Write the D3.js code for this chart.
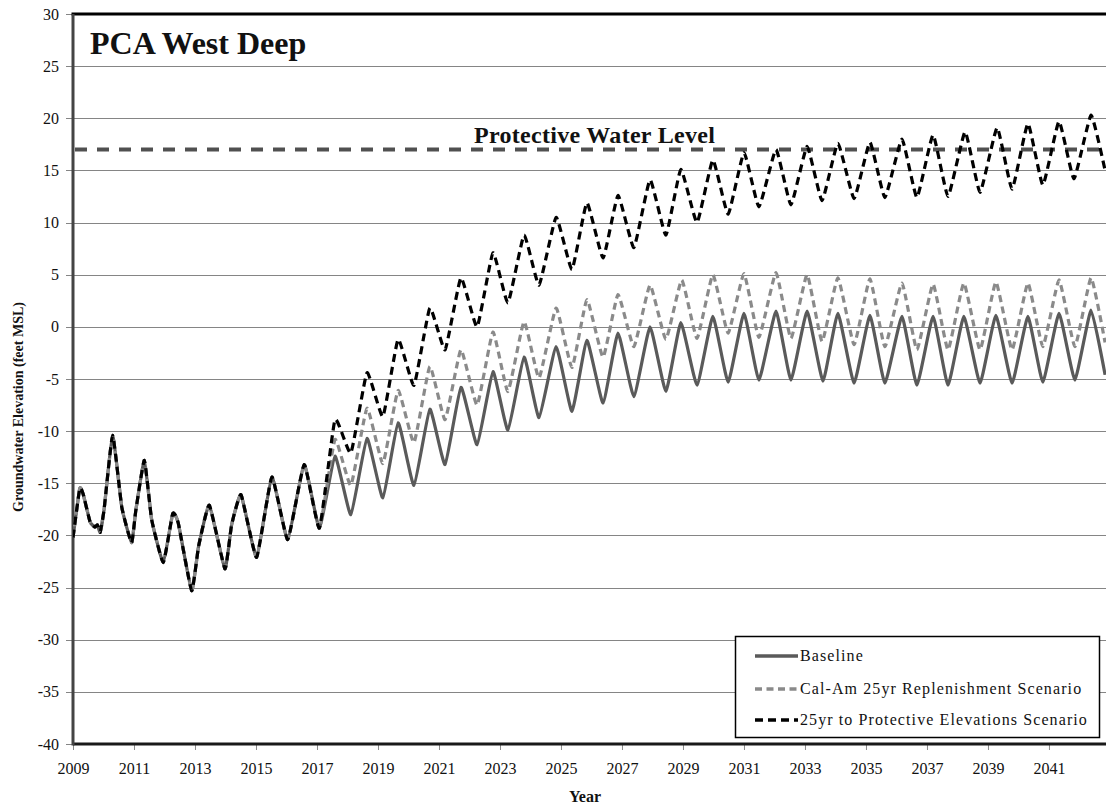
<!DOCTYPE html>
<html>
<head>
<meta charset="utf-8">
<script src="https://cdn.jsdelivr.net/npm/d3@7"></script>
<style>
  body { margin: 0; background: #fff; }
  svg { display: block; font-family: "Liberation Serif", "Times New Roman", serif; }
</style>
</head>
<body>
<svg id="chart" width="1106" height="809"></svg>
<script>
// ---- Data -------------------------------------------------------------
const yearTicks = [2009, 2011, 2013, 2015, 2017, 2019, 2021, 2023, 2025,
                   2027, 2029, 2031, 2033, 2035, 2037, 2039, 2041];
const elevationTicks = [-40, -35, -30, -25, -20, -15, -10, -5, 0, 5, 10, 15, 20, 25, 30];
const protectiveLevel = 17;
const chartTitle = "PCA West Deep";
const protectiveLabel = "Protective Water Level";
const seriesNames = ["Baseline",
                     "Cal-Am 25yr Replenishment Scenario",
                     "25yr to Protective Elevations Scenario"];

// Observed record shared by every scenario, [year, feet MSL]
const sharedHistory = [
  [2009.00, -20.2], [2009.22, -15.5], [2009.33, -16.0], [2009.56, -18.7],
  [2009.72, -19.2], [2009.80, -19.0], [2009.89, -19.7], [2010.02, -17.5],
  [2010.30, -10.4], [2010.60, -17.3], [2010.92, -20.7], [2011.06, -17.6],
  [2011.34, -12.8], [2011.58, -18.5], [2011.96, -22.6], [2012.27, -17.9],
  [2012.45, -18.8], [2012.89, -25.3], [2013.12, -21.0], [2013.47, -17.1],
  [2013.98, -23.2], [2014.20, -19.0], [2014.51, -16.1], [2015.02, -22.1],
  [2015.52, -14.4], [2016.04, -20.4], [2016.58, -13.2], [2017.08, -19.3]
];

// Projections after 2017
const baseline = [
  [2017.59, -12.4], [2018.11, -18.0], [2018.64, -10.7], [2019.16, -16.4],
  [2019.66, -9.2], [2020.18, -15.2], [2020.70, -7.9], [2021.20, -13.2],
  [2021.72, -5.8], [2022.25, -11.3], [2022.77, -4.3], [2023.26, -9.9],
  [2023.79, -2.9], [2024.28, -8.7], [2024.84, -1.9], [2025.36, -8.1],
  [2025.85, -1.3], [2026.38, -7.3], [2026.87, -0.6], [2027.39, -6.7],
  [2027.92, 0.0], [2028.44, -6.2], [2028.93, 0.4], [2029.46, -5.6],
  [2029.98, 1.0], [2030.48, -5.3], [2031.00, 1.3], [2031.49, -5.1],
  [2032.05, 1.5], [2032.54, -5.1], [2033.07, 1.5], [2033.59, -5.2],
  [2034.08, 1.3], [2034.61, -5.4], [2035.13, 1.1], [2035.62, -5.4],
  [2036.18, 1.0], [2036.67, -5.6], [2037.20, 1.0], [2037.69, -5.6],
  [2038.21, 1.0], [2038.74, -5.4], [2039.26, 1.1], [2039.79, -5.4],
  [2040.31, 1.0], [2040.80, -5.3], [2041.33, 1.3], [2041.85, -5.1],
  [2042.38, 1.6], [2042.84, -4.6]
];

const calAmReplenishment = [
  [2017.59, -10.8], [2018.11, -15.2], [2018.64, -7.8], [2019.16, -13.1],
  [2019.66, -6.1], [2020.18, -11.1], [2020.70, -3.8], [2021.20, -8.9],
  [2021.72, -2.2], [2022.25, -7.5], [2022.77, -0.5], [2023.26, -6.2],
  [2023.79, 0.5], [2024.28, -4.9], [2024.84, 1.8], [2025.36, -3.9],
  [2025.85, 2.6], [2026.38, -2.9], [2026.87, 3.1], [2027.39, -1.9],
  [2027.92, 4.0], [2028.44, -1.2], [2028.96, 4.5], [2029.46, -1.1],
  [2029.98, 5.0], [2030.48, -0.6], [2031.00, 5.1], [2031.49, -1.0],
  [2032.05, 5.2], [2032.54, -1.1], [2033.07, 5.0], [2033.56, -1.4],
  [2034.08, 4.7], [2034.61, -1.7], [2035.13, 4.6], [2035.62, -1.9],
  [2036.18, 4.2], [2036.67, -2.2], [2037.20, 4.1], [2037.69, -2.2],
  [2038.21, 4.2], [2038.74, -2.2], [2039.26, 4.3], [2039.79, -2.2],
  [2040.31, 4.2], [2040.80, -1.9], [2041.33, 4.5], [2041.85, -1.9],
  [2042.38, 4.7], [2042.84, -1.5]
];

const protectiveElevations = [
  [2017.59, -8.9], [2018.11, -12.1], [2018.64, -4.4], [2019.16, -8.6],
  [2019.66, -1.2], [2020.18, -5.6], [2020.70, 1.8], [2021.20, -2.2],
  [2021.72, 4.7], [2022.25, 0.0], [2022.77, 7.1], [2023.26, 2.3],
  [2023.79, 8.8], [2024.28, 4.0], [2024.84, 10.5], [2025.36, 5.5],
  [2025.85, 11.9], [2026.38, 6.6], [2026.87, 12.6], [2027.39, 7.6],
  [2027.92, 14.1], [2028.44, 8.8], [2028.93, 15.1], [2029.46, 10.0],
  [2029.98, 16.0], [2030.48, 10.8], [2031.00, 16.7], [2031.49, 11.5],
  [2032.05, 17.0], [2032.54, 11.7], [2033.07, 17.3], [2033.56, 12.1],
  [2034.08, 17.6], [2034.61, 12.3], [2035.13, 17.7], [2035.62, 12.4],
  [2036.18, 18.0], [2036.67, 12.4], [2037.20, 18.4], [2037.69, 12.5],
  [2038.25, 18.7], [2038.74, 12.9], [2039.30, 19.1], [2039.79, 13.2],
  [2040.31, 19.5], [2040.80, 13.6], [2041.33, 19.7], [2041.82, 14.2],
  [2042.38, 20.3], [2042.84, 15.0]
];

// ---- Layout -----------------------------------------------------------
const plot = { left: 73, right: 1106, top: 14, bottom: 744 };
const yearEnd = 2042.87;

const svg = d3.select("#chart");
const x = d3.scaleLinear().domain([2009, yearEnd]).range([plot.left, plot.right]);
const y = d3.scaleLinear().domain([-40, 30]).range([plot.bottom, plot.top]);

svg.append("defs").append("clipPath").attr("id", "plotClip")
  .append("rect")
  .attr("x", plot.left).attr("y", plot.top - 2)
  .attr("width", plot.right - plot.left).attr("height", plot.bottom - plot.top + 2);

// Horizontal gridlines with short outside ticks
svg.append("g").selectAll("line").data(elevationTicks).join("line")
  .attr("x1", plot.left - 7).attr("x2", plot.right)
  .attr("y1", d => Math.round(y(d)) + 0.5).attr("y2", d => Math.round(y(d)) + 0.5)
  .attr("stroke", "#858585").attr("stroke-width", 1);

// Y axis (plain hyphen for negatives)
const yAxis = d3.axisLeft(y).tickValues(elevationTicks).tickFormat(d => String(d))
  .tickSize(0).tickPadding(0);
svg.append("g").attr("transform", `translate(${plot.left - 14},0)`).call(yAxis)
  .call(g => g.select(".domain").remove())
  .call(g => g.selectAll("text")
    .attr("font-family", "Liberation Serif, serif")
    .attr("font-size", 16).attr("fill", "#111"));

// X axis
const xAxis = d3.axisBottom(x).tickValues(yearTicks).tickFormat(d => String(d))
  .tickSize(6).tickPadding(13);
svg.append("g").attr("transform", `translate(0,${plot.bottom})`).call(xAxis)
  .call(g => g.select(".domain").remove())
  .call(g => g.selectAll(".tick line").attr("stroke", "#8a8a8a"))
  .call(g => g.selectAll("text")
    .attr("font-family", "Liberation Serif, serif")
    .attr("font-size", 16).attr("fill", "#111"));

// Frame: heavy top border, left and bottom axis lines
svg.append("line").attr("x1", plot.left - 1.5).attr("x2", plot.right)
  .attr("y1", plot.top).attr("y2", plot.top)
  .attr("stroke", "#000").attr("stroke-width", 3);
svg.append("line").attr("x1", plot.left).attr("x2", plot.right)
  .attr("y1", plot.bottom).attr("y2", plot.bottom)
  .attr("stroke", "#1a1a1a").attr("stroke-width", 3);
svg.append("line").attr("x1", plot.left).attr("x2", plot.left)
  .attr("y1", plot.top).attr("y2", plot.bottom + 1.5)
  .attr("stroke", "#444").attr("stroke-width", 3);

// Protective water level reference line
svg.append("line")
  .attr("x1", plot.left + 2).attr("x2", plot.right)
  .attr("y1", y(protectiveLevel)).attr("y2", y(protectiveLevel))
  .attr("stroke", "#505050").attr("stroke-width", 4)
  .attr("stroke-dasharray", "12 10");

svg.append("text")
  .attr("x", 474).attr("y", 142.5)
  .attr("font-size", 24).attr("font-weight", "bold").attr("fill", "#111")
  .attr("letter-spacing", 0.3)
  .text(protectiveLabel);

// Series: slightly rounded joins between the seasonal highs and lows
const line = d3.line().x(d => x(d[0])).y(d => y(d[1]))
  .curve(d3.curveCardinal.tension(0.6));
const series = [
  { name: seriesNames[0], data: sharedHistory.concat(baseline),
    color: "#5a5a5a", width: 3.2, dash: null },
  { name: seriesNames[1], data: sharedHistory.concat(calAmReplenishment),
    color: "#8a8a8a", width: 3.2, dash: "7 4.5" },
  { name: seriesNames[2], data: sharedHistory.concat(protectiveElevations),
    color: "#000", width: 3.2, dash: "8 5" }
];

svg.append("g").attr("clip-path", "url(#plotClip)")
  .selectAll("path").data(series).join("path")
  .attr("d", d => line(d.data))
  .attr("fill", "none")
  .attr("stroke", d => d.color)
  .attr("stroke-width", d => d.width)
  .attr("stroke-linejoin", "round")
  .attr("stroke-dasharray", d => d.dash);

// Chart title
svg.append("text")
  .attr("x", 90).attr("y", 54)
  .attr("font-size", 32).attr("font-weight", "bold").attr("fill", "#111")
  .text(chartTitle);

// Axis titles
svg.append("text")
  .attr("transform", "translate(23,407) rotate(-90)")
  .attr("text-anchor", "middle")
  .attr("font-size", 14).attr("font-weight", "bold").attr("fill", "#111")
  .text("Groundwater Elevation (feet MSL)");

svg.append("text")
  .attr("x", 585).attr("y", 802).attr("text-anchor", "middle")
  .attr("font-size", 16).attr("font-weight", "bold").attr("fill", "#111")
  .text("Year");

// Legend
const legend = svg.append("g");
legend.append("rect")
  .attr("x", 735.5).attr("y", 636.5).attr("width", 364).attr("height", 101)
  .attr("fill", "#fff").attr("stroke", "#000").attr("stroke-width", 1.5);

const legendRows = [656, 689, 720];
const rows = legend.selectAll("g.row").data(series).join("g")
  .attr("class", "row")
  .attr("transform", (d, i) => `translate(0,${legendRows[i]})`);
rows.append("line")
  .attr("x1", 755).attr("x2", 798)
  .attr("stroke", d => d.color).attr("stroke-width", 3.5)
  .attr("stroke-dasharray", d => d.dash);
rows.append("text")
  .attr("x", 800).attr("y", 5)
  .attr("font-size", 16).attr("letter-spacing", 1.1).attr("fill", "#111")
  .text(d => d.name);
</script>
</body>
</html>
